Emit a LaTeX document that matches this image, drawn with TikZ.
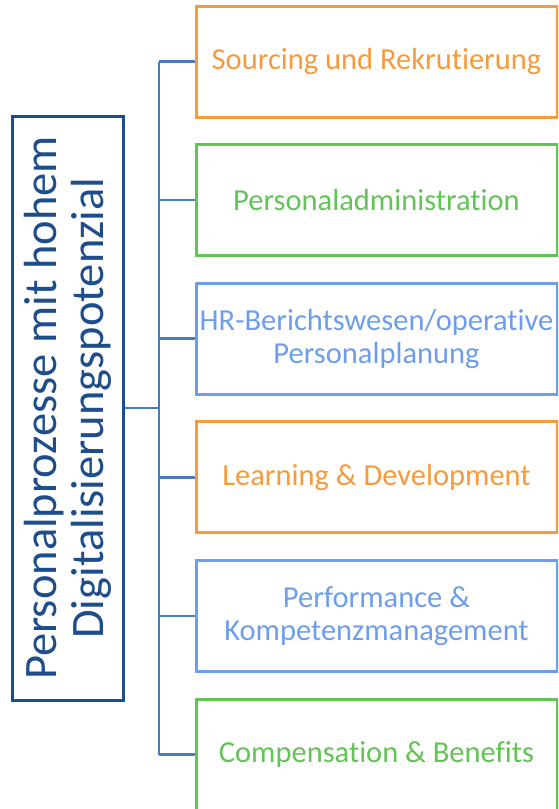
\documentclass[tikz,border=0pt]{standalone}
\usepackage{fontspec}
\setmainfont{Carlito}[Ligatures=NoCommon]
\definecolor{procorange}{HTML}{F79A3B}
\definecolor{procgreen}{HTML}{62C454}
\definecolor{procblue}{HTML}{6D9EEB}
\definecolor{linkblue}{HTML}{4A7BC0}
\definecolor{titleblue}{HTML}{1E4D8C}
\tikzset{
  procbox/.style={draw=#1, text=#1, line width=3pt, minimum width=361pt,
    minimum height=111pt, align=center, font=\fontsize{30.5}{33}\selectfont,
    inner sep=0pt},
  titlebox/.style={draw=titleblue, text=titleblue, line width=3pt,
    rotate=90, minimum width=584pt, minimum height=111pt, align=center,
    font=\fontsize{46.5}{47}\selectfont, inner sep=0pt},
  link/.style={draw=linkblue, line width=2.5pt}
}
\begin{document}
\begin{tikzpicture}[x=1pt,y=-1pt]
\useasboundingbox (0,0) rectangle (558,809);
\clip (0,0) rectangle (558,809);
\node[titlebox] (title) at (67.5,408) {Personalprozesse mit hohem\\Digitalisierungspotenzial};
\node[procbox=procorange] (p1) at (376.5,61.5) {Sourcing und Rekrutierung};
\node[procbox=procgreen]  (p2) at (376.5,200.1) {Personaladministration};
\node[procbox=procblue]   (p3) at (376.5,338.7) {HR-Berichtswesen/operative\\Personalplanung};
\node[procbox=procorange] (p4) at (376.5,477.3) {Learning \& Development};
\node[procbox=procblue]   (p5) at (376.5,615.9) {Performance \&\\Kompetenzmanagement};
\node[procbox=procgreen]  (p6) at (376.5,754.5) {Compensation \& Benefits};
\coordinate (spine) at (159,408);
\draw[link] (title.south) -- (title.south -| spine);
\draw[link] (p1.west -| spine) -- (p6.west -| spine);
\foreach \n in {p1,p2,p3,p4,p5,p6}
  \draw[link] (\n.west -| spine) -- (\n.west);
\end{tikzpicture}
\end{document}
